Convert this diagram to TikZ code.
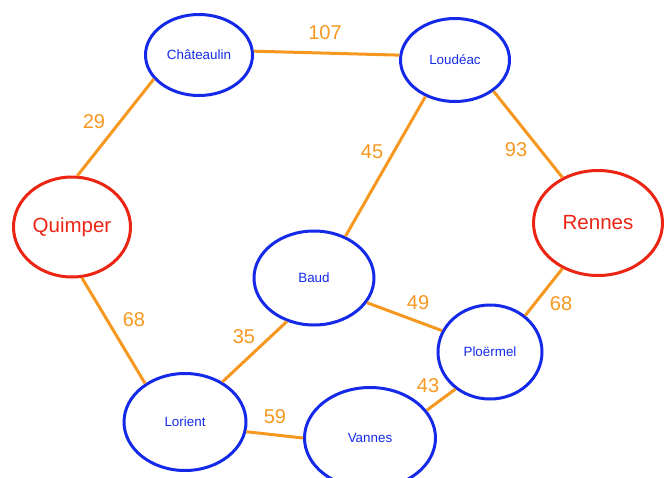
\documentclass[tikz,border=0pt]{standalone}
\usepackage{fontspec}
\setmainfont{Liberation Sans}
\usetikzlibrary{shapes.geometric}
\definecolor{cityblue}{RGB}{20,42,232}
\definecolor{cityred}{RGB}{236,36,20}
\definecolor{roadorange}{RGB}{246,152,32}
\tikzset{
  city/.style={ellipse, draw=cityblue, line width=3pt, inner sep=0pt, text=cityblue,
    font=\fontsize{13.4}{16}\selectfont},
  bigcity/.style={ellipse, draw=cityred, line width=3pt, inner sep=0pt, text=cityred,
    font=\fontsize{20.5}{24}\selectfont},
  road/.style={draw=roadorange, line width=3pt},
  dist/.style={text=roadorange, font=\fontsize{20}{24}\selectfont, inner sep=0pt}
}
\begin{document}
\begin{tikzpicture}[x=1pt, y=-1pt]
\useasboundingbox (0,0) rectangle (664,477);
% towns
\node[city, minimum width=107pt, minimum height=81pt] (chat) at (199,55) {Châteaulin};
\node[city, minimum width=109pt, minimum height=83pt] (loud) at (455,60) {Loudéac};
\node[bigcity, minimum width=117pt, minimum height=100pt] (quim) at (72,227) {Quimper};
\node[bigcity, minimum width=129pt, minimum height=105pt] (renn) at (598,223) {Rennes};
\node[city, minimum width=120pt, minimum height=94pt] (baud) at (314,278) {Baud};
\node[city, minimum width=104pt, minimum height=94pt] (ploe) at (490,352) {Ploërmel};
\node[city, minimum width=122pt, minimum height=97pt] (lori) at (185,422) {Lorient};
\node[city, minimum width=131pt, minimum height=101pt] (vann) at (370,438) {Vannes};
% roads
\draw[road] (quim.84) -- (chat.208);
\draw[road] (chat.4) -- (loud.175);
\draw[road] (loud.231) -- (baud.53);
\draw[road] (loud.321) -- (renn.128);
\draw[road] (quim.281) -- (lori.136);
\draw[road] (lori.47) -- (baud.238);
\draw[road] (baud.335) -- (ploe.156);
\draw[road] (renn.232) -- (ploe.46);
\draw[road] (lori.351) -- (vann.180);
\draw[road] (vann.26) -- (ploe.227);
% distances
\node[dist] (d1) at (325,33) {107};
\node[dist] (d2) at (94,122) {29};
\node[dist] (d3) at (372,152) {45};
\node[dist] (d4) at (516,150) {93};
\node[dist] (d5) at (134,320) {68};
\node[dist] (d6) at (244,337) {35};
\node[dist] (d7) at (418,303) {49};
\node[dist] (d8) at (561,304) {68};
\node[dist] (d9) at (275,417) {59};
\node[dist] (d10) at (428,386) {43};
\end{tikzpicture}
\end{document}
